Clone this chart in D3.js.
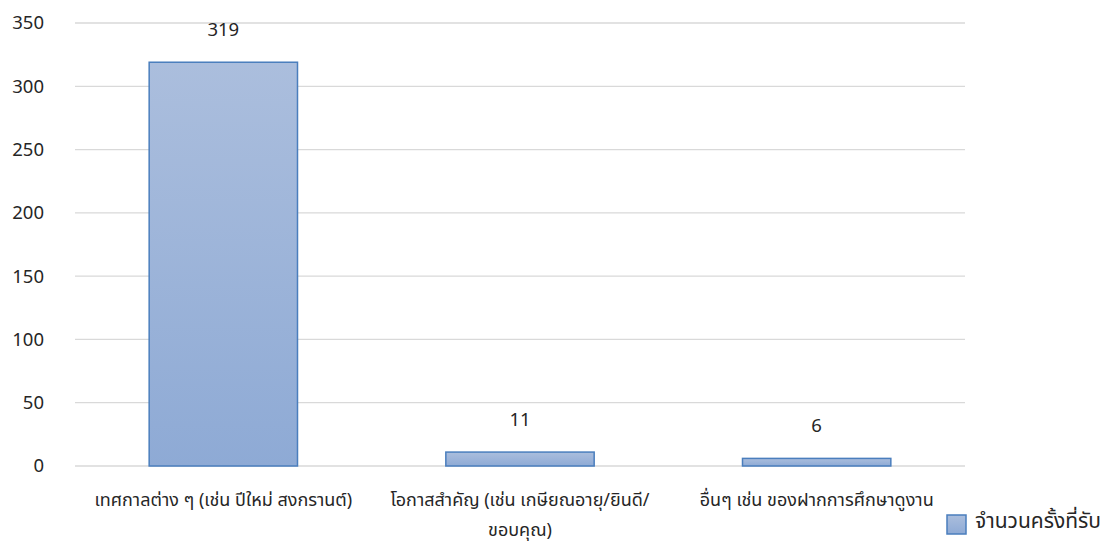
<!DOCTYPE html>
<html lang="th">
<head>
  <meta charset="UTF-8">
  <title>จำนวนครั้งที่รับ</title>
  <script src="https://d3js.org/d3.v7.min.js"></script>
  <style>
    body { margin: 0; background: #fff; }
    text { font-family: "Noto Sans", "Noto Sans Thai", "Tahoma", sans-serif; fill: #262626; }
    .grid line { stroke: #d9d9d9; stroke-width: 1.3; }
  </style>
</head>
<body>
  <svg width="1110" height="543"></svg>
  <script>
    // data
    const categories = [
      "เทศกาลต่าง ๆ (เช่น ปีใหม่ สงกรานต์)",
      "โอกาสสำคัญ (เช่น เกษียณอายุ/ยินดี/ขอบคุณ)",
      "อื่นๆ เช่น ของฝากการศึกษาดูงาน"
    ];
    // how each category label is broken into lines
    const categoryLines = [
      ["เทศกาลต่าง ๆ (เช่น ปีใหม่ สงกรานต์)"],
      ["โอกาสสำคัญ (เช่น เกษียณอายุ/ยินดี/", "ขอบคุณ)"],
      ["อื่นๆ เช่น ของฝากการศึกษาดูงาน"]
    ];
    const values = [319, 11, 6];
    const yTicks = [0, 50, 100, 150, 200, 250, 300, 350];
    const seriesName = "จำนวนครั้งที่รับ";

    const svg = d3.select("svg");
    const plotLeft = 75, plotRight = 965, plotTop = 23, plotBottom = 466;

    const x = d3.scaleBand().domain(categories).range([plotLeft, plotRight]).paddingInner(0.5).paddingOuter(0.25);
    const y = d3.scaleLinear().domain([0, 350]).range([plotBottom, plotTop]);

    // gradient for bars
    const defs = svg.append("defs");
    const grad = defs.append("linearGradient").attr("id", "barGrad")
      .attr("x1", 0).attr("y1", 0).attr("x2", 0).attr("y2", 1);
    grad.append("stop").attr("offset", "0%").attr("stop-color", "#abbedd");
    grad.append("stop").attr("offset", "100%").attr("stop-color", "#8eaad5");

    // gridlines
    svg.append("g").attr("class", "grid")
      .selectAll("line").data(yTicks).enter().append("line")
      .attr("x1", plotLeft).attr("x2", plotRight)
      .attr("y1", d => y(d)).attr("y2", d => y(d));

    // y tick labels
    svg.append("g").selectAll("text").data(yTicks).enter().append("text")
      .attr("x", 44).attr("y", d => y(d)).attr("dy", "0.35em")
      .attr("text-anchor", "end").style("font-size", "18.5px")
      .text(d => d);

    // bars
    svg.append("g").selectAll("rect").data(values).enter().append("rect")
      .attr("x", (d, i) => x(categories[i]))
      .attr("y", d => y(d))
      .attr("width", x.bandwidth())
      .attr("height", d => plotBottom - y(d))
      .attr("fill", "url(#barGrad)")
      .attr("stroke", "#4a7ebd").attr("stroke-width", 1.5);

    // value labels
    svg.append("g").selectAll("text").data(values).enter().append("text")
      .attr("x", (d, i) => x(categories[i]) + x.bandwidth() / 2)
      .attr("y", d => y(d) - 26)
      .attr("text-anchor", "middle").style("font-size", "18.5px")
      .text(d => d);

    // category labels
    const cat = svg.append("g").selectAll("text").data(categories).enter().append("text")
      .attr("x", d => x(d) + x.bandwidth() / 2)
      .attr("y", 506)
      .attr("text-anchor", "middle").style("font-size", "18px");
    cat.each(function(d, i) {
      const t = d3.select(this);
      categoryLines[i].forEach((line, j) => {
        t.append("tspan").attr("x", x(d) + x.bandwidth() / 2)
          .attr("dy", j === 0 ? 0 : 30).text(line);
      });
    });

    // legend
    const lg = svg.append("g").attr("transform", "translate(947,515)");
    lg.append("rect").attr("width", 19).attr("height", 19)
      .attr("fill", "url(#barGrad)").attr("stroke", "#4a7ebd").attr("stroke-width", 1.5);
    lg.append("text").attr("x", 28).attr("y", 13).style("font-size", "21px").text(seriesName);
  </script>
</body>
</html>
